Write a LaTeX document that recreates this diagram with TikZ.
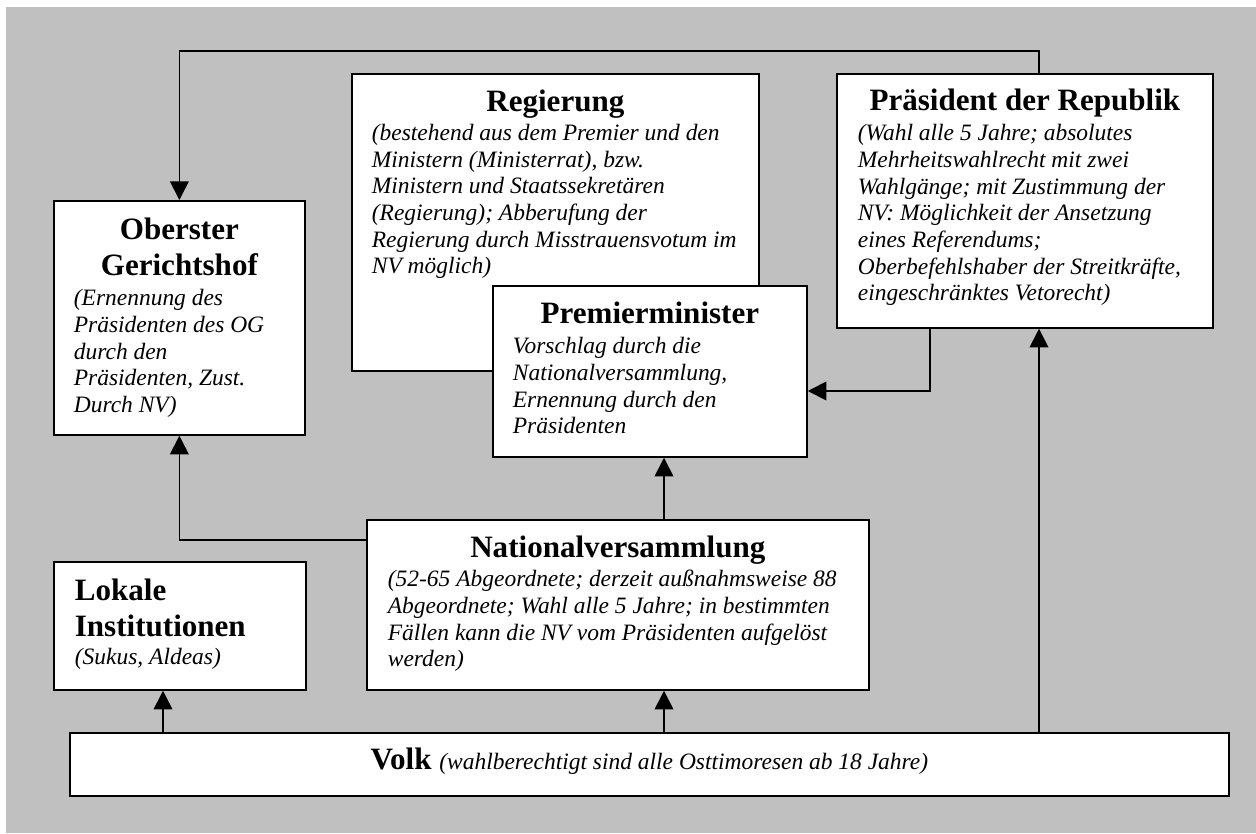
\documentclass[tikz,border=0pt]{standalone}
\usepackage{fontspec}
\setmainfont{Liberation Serif}
\usetikzlibrary{arrows.meta}

\definecolor{bgGrey}{RGB}{192,192,192}
\newcommand{\titlefont}{\fontsize{23.3}{27}\selectfont\upshape\bfseries}
\newcommand{\notefont}{\fontsize{17.6}{20}\selectfont\mdseries\itshape}

\tikzset{every picture/.style={line width=1.3pt}}
\tikzset{
organ/.style={draw, fill=white, line width=1.3pt, inner sep=0pt, anchor=north west},
link/.style={line width=1.3pt, -{Triangle[length=14pt,width=14pt]}}}

\begin{document}
\begin{tikzpicture}[x=0.75pt,y=0.75pt,yscale=-1,xscale=1]
\useasboundingbox (0,0) rectangle (1256,833);
%Background
\fill[bgGrey] (6,7) rectangle (1256,833);

%Shape: Regierung
\node[organ] (reg) at (351,73) {\parbox[c][222.75pt][t]{305.25pt}{%
\centering\titlefont\rule{0pt}{28.3pt}Regierung\par\vspace{1.75pt}
\raggedright\leftskip=15pt\notefont
(bestehend aus dem Premier und den\\
Ministern (Ministerrat), bzw.\\
Ministern und Staatssekretären\\
(Regierung); Abberufung der\\
Regierung durch Misstrauensvotum im\\
NV möglich)}};
%Shape: Premierminister
\node[organ] (pm) at (492,285) {\parbox[c][128.25pt][t]{235.5pt}{%
\centering\titlefont\rule{0pt}{28.5pt}Premierminister\par\vspace{2.5pt}
\raggedright\leftskip=15pt\notefont
Vorschlag durch die\\
Nationalversammlung,\\
Ernennung durch den\\
Präsidenten}};
%Shape: Praesident
\node[organ] (pres) at (836,73) {\parbox[c][190.5pt][t]{282pt}{%
\centering\titlefont\rule{0pt}{27.75pt}Präsident der Republik\par\vspace{2.5pt}
\raggedright\leftskip=15.75pt\notefont
(Wahl alle 5 Jahre; absolutes\\
Mehrheitswahlrecht mit zwei\\
Wahlgänge; mit Zustimmung der\\
NV: Möglichkeit der Ansetzung\\
eines Referendums;\\
Oberbefehlshaber der Streitkräfte,\\
eingeschränktes Vetorecht)}};
%Shape: Oberster Gerichtshof
\node[organ] (og) at (53,200) {\parbox[c][175.5pt][t]{188.25pt}{%
\centering\titlefont\rule{0pt}{29.25pt}Oberster\\Gerichtshof\par\vspace{2.5pt}
\raggedright\leftskip=15pt\notefont
(Ernennung des\\
Präsidenten des OG\\
durch den\\
Präsidenten, Zust.\\
Durch NV)}};
%Shape: Lokale Institutionen
\node[organ] (lok) at (53,561) {\parbox[c][96pt][t]{189pt}{%
\raggedright\leftskip=15.75pt\titlefont\rule{0pt}{29.25pt}Lokale\\Institutionen\par\vspace{1pt}
\notefont(Sukus, Aldeas)}};
%Shape: Nationalversammlung
\node[organ] (nv) at (366,519) {\parbox[c][127.5pt][t]{376.5pt}{%
\centering\titlefont\rule{0pt}{28.5pt}Nationalversammlung\par\vspace{1.75pt}
\raggedright\leftskip=15.75pt\notefont
(52-65 Abgeordnete; derzeit außnahmsweise 88\\
Abgeordnete; Wahl alle 5 Jahre; in bestimmten\\
Fällen kann die NV vom Präsidenten aufgelöst\\
werden)}};
%Shape: Volk
\node[organ] (volk) at (69,732) {\parbox[c][47.25pt][t]{869.25pt}{%
\centering\titlefont\rule{0pt}{27.75pt}Volk {\notefont(wahlberechtigt sind alle Osttimoresen ab 18 Jahre)}}};

%Connector taps
\coordinate (tapP) at (1039,51);
\coordinate (tapM) at (930,391);
\coordinate (tapN) at (664,0);
\coordinate (tapO) at (0,540);
\coordinate (tapL) at (163,0);

%Connectors
\draw[link] (pres.north -| tapP) -- (tapP) -| (og.north);
\draw[link] (volk.north -| tapP) -- (pres.south -| tapP);
\draw[link] (pres.south -| tapM) |- (pm.east |- tapM);
\draw[link] (nv.north -| tapN) -- (pm.south -| tapN);
\draw[link] (volk.north -| tapN) -- (nv.south -| tapN);
\draw[link] (nv.west |- tapO) -| (og.south);
\draw[link] (volk.north -| tapL) -- (lok.south -| tapL);

\end{tikzpicture}
\end{document}
